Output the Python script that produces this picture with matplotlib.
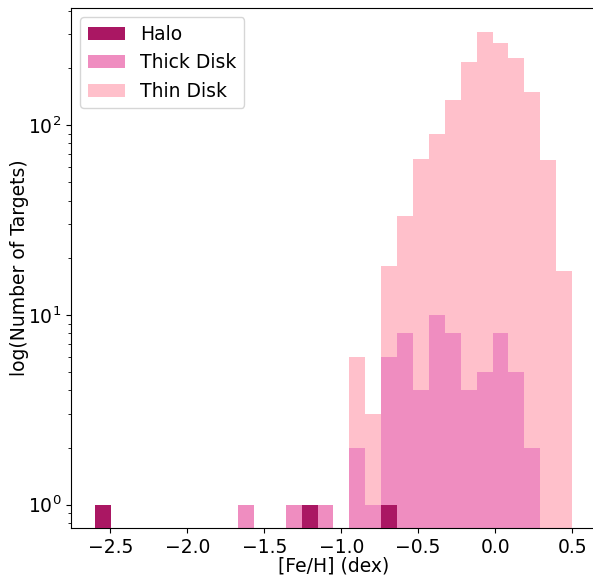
import numpy as np
import matplotlib
matplotlib.use("Agg")
import matplotlib.pyplot as plt

# Shared bin edges: 30 bins spanning the [Fe/H] data range
feh_min, feh_max, n_bins = -2.6, 0.5, 30

# Non-empty bins (bin index -> count) for each population
halo_bins = [0, 13, 18]
halo_counts = [1, 1, 1]

thick_bins = [9, 12, 14, 16, 17, 18, 19, 20, 21, 22, 23, 24, 25, 26, 27]
thick_counts = [1, 1, 1, 2, 1, 6, 8, 4, 10, 8, 4, 5, 8, 5, 2]

thin_bins = [16, 17, 18, 19, 20, 21, 22, 23, 24, 25, 26, 27, 28, 29]
thin_counts = [6, 3, 18, 33, 66, 90, 136, 214, 310, 269, 225, 149, 65, 17]

labels = ["Halo", "Thick Disk", "Thin Disk"]
colors = ["#AA1763", "#EF8DC0", "#FFC0CB"]

edges = np.linspace(feh_min, feh_max, n_bins + 1)
centers = 0.5 * (edges[:-1] + edges[1:])

fig = plt.figure(figsize=(5.93, 5.77), dpi=100)
ax = fig.add_axes([71 / 593, 49 / 577, (596 - 71) / 593, 520 / 577])
ax.set_yscale("log")

handles = {}
for name, b, c, col, z in [
    ("Thin Disk", thin_bins, thin_counts, colors[2], 1),
    ("Thick Disk", thick_bins, thick_counts, colors[1], 2),
    ("Halo", halo_bins, halo_counts, colors[0], 3),
]:
    _, _, patches = ax.hist(centers[b], bins=edges, weights=c, color=col,
                            histtype="bar", rwidth=1.0, label=name, zorder=z)
    handles[name] = patches[0]

ax.set_xlim(-2.755, 0.655)
ax.set_ylim(0.754, 413)

fs = 13.5
ax.tick_params(labelsize=fs)
ax.set_xlabel("[Fe/H] (dex)", fontsize=fs, labelpad=0)
ax.set_ylabel("log(Number of Targets)", fontsize=fs, labelpad=-1)
ax.legend([handles[n] for n in labels], labels, loc="upper left", fontsize=fs)

fig.savefig("out.png", dpi=100)
